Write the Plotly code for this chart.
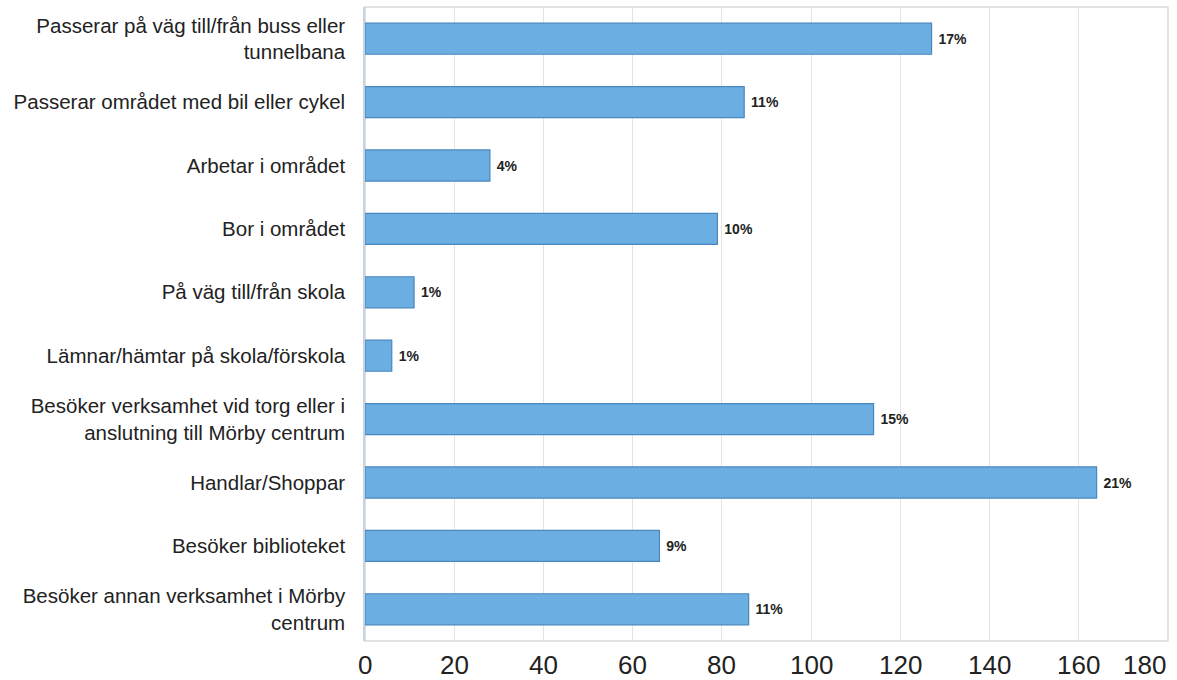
import plotly.graph_objects as go

categories = [
    "Passerar på väg till/från buss eller<br>tunnelbana",
    "Passerar området med bil eller cykel",
    "Arbetar i området",
    "Bor i området",
    "På väg till/från skola",
    "Lämnar/hämtar på skola/förskola",
    "Besöker verksamhet vid torg eller i<br>anslutning till Mörby centrum",
    "Handlar/Shoppar",
    "Besöker biblioteket",
    "Besöker annan verksamhet i Mörby<br>centrum",
]
values = [127, 85, 28, 79, 11, 6, 114, 164, 66, 86]
pct_labels = ["17%", "11%", "4%", "10%", "1%", "1%", "15%", "21%", "9%", "11%"]
x_ticks = [0, 20, 40, 60, 80, 100, 120, 140, 160, 180]

fig = go.Figure()
fig.add_trace(go.Bar(
    y=categories,
    x=values,
    orientation="h",
    marker=dict(color="#6aaee2", line=dict(color="#4a86c0", width=1.2)),
    text=[" " + t for t in pct_labels],
    textposition="outside",
    cliponaxis=False,
    textfont=dict(family="Liberation Sans, Arial, sans-serif", size=14, color="#222222", weight="bold"),
    hoverinfo="skip",
))

for t in x_ticks:
    fig.add_annotation(
        x=t, xref="x", y=0, yref="paper", yshift=-24,
        text=str(t), showarrow=False,
        xanchor="right" if t == x_ticks[-1] else "center", yanchor="middle",
        font=dict(family="Liberation Sans, Arial, sans-serif", size=26, color="#222222"),
    )

fig.add_shape(type="rect", xref="paper", yref="paper", x0=0, x1=1, y0=0, y1=1,
              line=dict(color="#d9d9d9", width=1.5), layer="below")

fig.update_layout(
    width=1177, height=680,
    margin=dict(l=365, r=9, t=7, b=39),
    paper_bgcolor="white", plot_bgcolor="white",
    showlegend=False,
    bargap=0.51,
    font=dict(family="Liberation Sans, Arial, sans-serif", color="#222222"),
    xaxis=dict(range=[0, 180], tickvals=x_ticks, showticklabels=False,
               showgrid=True, gridcolor="#e3e3e3", gridwidth=1.2, zeroline=False,
               showline=False, fixedrange=True),
    yaxis=dict(categoryorder="array", categoryarray=categories, autorange="reversed",
               tickfont=dict(size=20.5, color="#222222"), ticks="",
               ticklabelstandoff=14,
               showline=True, linecolor="#c9d3e0", linewidth=1.5,
               showgrid=False, fixedrange=True),
)

fig.write_html("out.html", config={"displayModeBar": False},
               post_script="document.body.style.margin='0';document.body.style.overflow='hidden';")
